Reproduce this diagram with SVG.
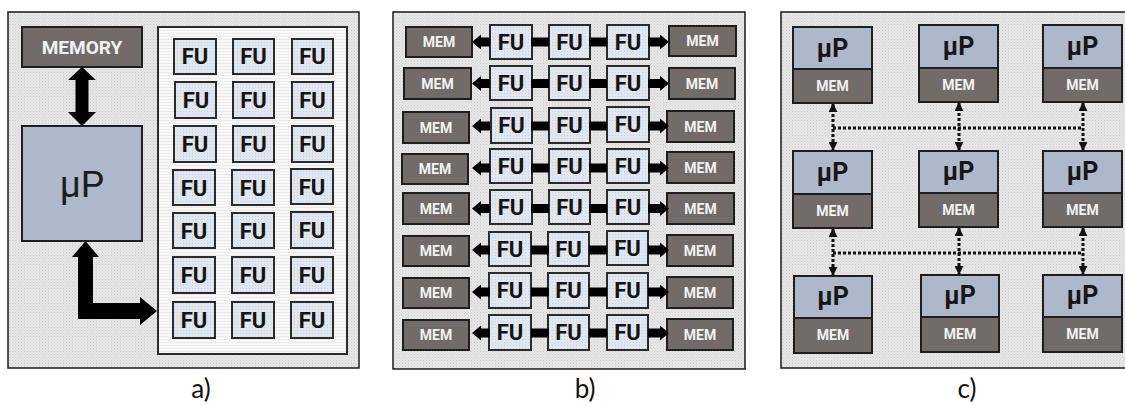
<svg xmlns="http://www.w3.org/2000/svg" xmlns:xlink="http://www.w3.org/1999/xlink" width="1125" height="405" viewBox="0 0 1125 405">
  <defs>
    <!-- fine halftone grain used on the panel backgrounds -->
    <pattern id="grain" width="3" height="3" patternUnits="userSpaceOnUse">
      <rect width="3" height="3" fill="#e7e7e7"/>
      <rect x="0" y="0" width="1" height="1" fill="#cdcdcd"/>
      <rect x="1.5" y="1.5" width="1" height="1" fill="#d6d6d6"/>
    </pattern>
    <pattern id="fuGrain" width="3" height="3" patternUnits="userSpaceOnUse">
      <rect width="3" height="3" fill="#e1e7ef"/>
      <rect x="0" y="0" width="1" height="1" fill="#c9d1dd"/>
    </pattern>
    <pattern id="lines" width="3" height="3" patternUnits="userSpaceOnUse">
      <rect width="3" height="3" fill="#f7f7f7"/>
      <rect x="0" y="0" width="3" height="1" fill="#ebebeb"/>
    </pattern>
    <!-- small arrowhead for the dotted links -->
    <marker id="tip" viewBox="0 0 10 10" refX="9" refY="5" markerWidth="9" markerHeight="9" markerUnits="userSpaceOnUse" orient="auto-start-reverse">
      <path d="M0,0 L10,5 L0,10 Z" fill="#111"/>
    </marker>
    <!-- one row of links in panel b, centred on y = 0 -->
    <g id="rowLinks">
      <polygon points="472,0 481,-7.5 481,-4.5 490,-4.5 490,4.5 481,4.5 481,7.5"/>
      <rect x="531" y="-4.5" width="18" height="9"/>
      <rect x="589" y="-4.5" width="18" height="9"/>
      <polygon points="648,-4.5 660,-4.5 660,-7.5 669,0 660,7.5 660,4.5 648,4.5"/>
    </g>
  </defs>
  <style>
    .panel { fill: url(#grain); stroke: #1a1a1a; stroke-width: 1.5; }
    .inner { fill: url(#lines); stroke: #2a2a2a; stroke-width: 2; }
    .fu { fill: url(#fuGrain); stroke: #2b2b2b; stroke-width: 2; }
    .mem { fill: #716c6a; stroke: #1e1e1e; stroke-width: 2; }
    .up { fill: #adb9ca; stroke: #1e1e1e; stroke-width: 2; }
    .fuT { font-family: Roboto, "Liberation Sans", sans-serif; font-weight: bold; font-size: 22px; fill: #141414; text-anchor: middle; }
    .memT { font-family: Roboto, "Liberation Sans", sans-serif; font-weight: bold; font-size: 14px; fill: #f2f2f2; text-anchor: middle; }
    .upT { font-family: Roboto, "Liberation Sans", sans-serif; font-weight: bold; font-size: 25px; fill: #161616; text-anchor: middle; }
    .cap { font-family: Lato, "Open Sans", sans-serif; font-size: 26px; fill: #111; text-anchor: middle; }
    .dot { stroke: #111; stroke-width: 3; stroke-dasharray: 3 2; fill: none; }
  </style>

  <rect width="1125" height="405" fill="#ffffff"/>

  <!-- ===== panel a ===== -->
  <rect class="panel" x="8" y="12" width="351" height="356"/>
  <rect class="inner" x="158" y="27" width="189" height="327"/>

  <g id="a-memory">
    <rect class="mem" x="22" y="27" width="120" height="40"/>
    <text class="memT" x="82" y="54" style="font-size:19px">MEMORY</text>
  </g>
  <g id="a-up">
    <rect class="up" x="22" y="126" width="120" height="115"/>
    <text x="82" y="197" style="font-family:Roboto,'Liberation Sans',sans-serif;font-size:37px;fill:#1c1c1c;text-anchor:middle">µP</text>
  </g>

  <g id="a-fu">
    <g id="a-fu-1-1"><rect class="fu" x="174" y="39" width="42" height="35"/><text class="fuT" x="195" y="64">FU</text></g>
    <g id="a-fu-1-2"><rect class="fu" x="233" y="39" width="41" height="35"/><text class="fuT" x="253.5" y="64">FU</text></g>
    <g id="a-fu-1-3"><rect class="fu" x="292" y="39" width="41" height="35"/><text class="fuT" x="312.5" y="64">FU</text></g>
    <g id="a-fu-2-1"><rect class="fu" x="175" y="82" width="41" height="36"/><text class="fuT" x="196" y="108">FU</text></g>
    <g id="a-fu-2-2"><rect class="fu" x="233" y="82" width="41" height="36"/><text class="fuT" x="253.5" y="108">FU</text></g>
    <g id="a-fu-2-3"><rect class="fu" x="292" y="82" width="41" height="36"/><text class="fuT" x="312.5" y="108">FU</text></g>
    <g id="a-fu-3-1"><rect class="fu" x="174" y="126" width="42" height="36"/><text class="fuT" x="195" y="152">FU</text></g>
    <g id="a-fu-3-2"><rect class="fu" x="233" y="126" width="41" height="36"/><text class="fuT" x="253.5" y="152">FU</text></g>
    <g id="a-fu-3-3"><rect class="fu" x="292" y="126" width="41" height="36"/><text class="fuT" x="312.5" y="152">FU</text></g>
    <g id="a-fu-4-1"><rect class="fu" x="173" y="170" width="42" height="35"/><text class="fuT" x="194" y="196">FU</text></g>
    <g id="a-fu-4-2"><rect class="fu" x="232" y="170" width="42" height="35"/><text class="fuT" x="253" y="196">FU</text></g>
    <g id="a-fu-4-3"><rect class="fu" x="291" y="169" width="42" height="35"/><text class="fuT" x="312" y="195">FU</text></g>
    <g id="a-fu-5-1"><rect class="fu" x="173" y="213" width="42" height="35"/><text class="fuT" x="194" y="239">FU</text></g>
    <g id="a-fu-5-2"><rect class="fu" x="232" y="213" width="42" height="35"/><text class="fuT" x="253" y="239">FU</text></g>
    <g id="a-fu-5-3"><rect class="fu" x="291" y="212" width="42" height="36"/><text class="fuT" x="312" y="238">FU</text></g>
    <g id="a-fu-6-1"><rect class="fu" x="173" y="257" width="42" height="36"/><text class="fuT" x="194" y="283">FU</text></g>
    <g id="a-fu-6-2"><rect class="fu" x="232" y="257" width="42" height="36"/><text class="fuT" x="253" y="283">FU</text></g>
    <g id="a-fu-6-3"><rect class="fu" x="291" y="257" width="42" height="36"/><text class="fuT" x="312" y="283">FU</text></g>
    <g id="a-fu-7-1"><rect class="fu" x="173" y="302" width="42" height="36"/><text class="fuT" x="194" y="328">FU</text></g>
    <g id="a-fu-7-2"><rect class="fu" x="232" y="302" width="42" height="36"/><text class="fuT" x="253" y="328">FU</text></g>
    <g id="a-fu-7-3"><rect class="fu" x="291" y="302" width="42" height="36"/><text class="fuT" x="312" y="328">FU</text></g>
  </g>

  <!-- ===== panel b ===== -->
  <rect class="panel" x="393" y="12" width="352" height="357"/>

  <g id="b-nodes">
    <g id="b-row-1">
      <g id="b-mem-l-1"><rect class="mem" x="406" y="27" width="66" height="30"/><text class="memT" x="439" y="47">MEM</text></g>
      <g id="b-fu-1-1"><rect class="fu" x="490" y="25" width="42" height="34"/><text class="fuT" x="511" y="50">FU</text></g>
      <g id="b-fu-1-2"><rect class="fu" x="549" y="25" width="41" height="34"/><text class="fuT" x="569.5" y="50">FU</text></g>
      <g id="b-fu-1-3"><rect class="fu" x="607" y="25" width="42" height="34"/><text class="fuT" x="628" y="50">FU</text></g>
      <g id="b-mem-r-1"><rect class="mem" x="669" y="26" width="67" height="30"/><text class="memT" x="702.5" y="46">MEM</text></g>
    </g>
    <g id="b-row-2">
      <g id="b-mem-l-2"><rect class="mem" x="404" y="68" width="67" height="31"/><text class="memT" x="437.5" y="88.5">MEM</text></g>
      <g id="b-fu-2-1"><rect class="fu" x="490" y="66" width="42" height="34"/><text class="fuT" x="511" y="91">FU</text></g>
      <g id="b-fu-2-2"><rect class="fu" x="549" y="66" width="41" height="34"/><text class="fuT" x="569.5" y="91">FU</text></g>
      <g id="b-fu-2-3"><rect class="fu" x="607" y="66" width="42" height="34"/><text class="fuT" x="628" y="91">FU</text></g>
      <g id="b-mem-r-2"><rect class="mem" x="669" y="68" width="66" height="31"/><text class="memT" x="702" y="88.5">MEM</text></g>
    </g>
    <g id="b-row-3">
      <g id="b-mem-l-3"><rect class="mem" x="403" y="112" width="66" height="31"/><text class="memT" x="436" y="132.5">MEM</text></g>
      <g id="b-fu-3-1"><rect class="fu" x="491" y="108" width="41" height="35"/><text class="fuT" x="511.5" y="133">FU</text></g>
      <g id="b-fu-3-2"><rect class="fu" x="549" y="108" width="41" height="35"/><text class="fuT" x="569.5" y="133">FU</text></g>
      <g id="b-fu-3-3"><rect class="fu" x="607" y="107" width="42" height="35"/><text class="fuT" x="628" y="132">FU</text></g>
      <g id="b-mem-r-3"><rect class="mem" x="667" y="111" width="67" height="31"/><text class="memT" x="700.5" y="131.5">MEM</text></g>
    </g>
    <g id="b-row-4">
      <g id="b-mem-l-4"><rect class="mem" x="402" y="154" width="66" height="30"/><text class="memT" x="435" y="174">MEM</text></g>
      <g id="b-fu-4-1"><rect class="fu" x="490" y="149" width="42" height="34"/><text class="fuT" x="511" y="174">FU</text></g>
      <g id="b-fu-4-2"><rect class="fu" x="549" y="149" width="41" height="34"/><text class="fuT" x="569.5" y="174">FU</text></g>
      <g id="b-fu-4-3"><rect class="fu" x="607" y="149" width="42" height="34"/><text class="fuT" x="628" y="174">FU</text></g>
      <g id="b-mem-r-4"><rect class="mem" x="667" y="152" width="67" height="31"/><text class="memT" x="700.5" y="172.5">MEM</text></g>
    </g>
    <g id="b-row-5">
      <g id="b-mem-l-5"><rect class="mem" x="403" y="193" width="66" height="31"/><text class="memT" x="436" y="213.5">MEM</text></g>
      <g id="b-fu-5-1"><rect class="fu" x="490" y="190" width="42" height="34"/><text class="fuT" x="511" y="215">FU</text></g>
      <g id="b-fu-5-2"><rect class="fu" x="549" y="190" width="41" height="34"/><text class="fuT" x="569.5" y="215">FU</text></g>
      <g id="b-fu-5-3"><rect class="fu" x="607" y="190" width="42" height="34"/><text class="fuT" x="628" y="215">FU</text></g>
      <g id="b-mem-r-5"><rect class="mem" x="667" y="193" width="67" height="31"/><text class="memT" x="700.5" y="213.5">MEM</text></g>
    </g>
    <g id="b-row-6">
      <g id="b-mem-l-6"><rect class="mem" x="403" y="236" width="66" height="30"/><text class="memT" x="436" y="256">MEM</text></g>
      <g id="b-fu-6-1"><rect class="fu" x="489" y="232" width="42" height="34"/><text class="fuT" x="510" y="257">FU</text></g>
      <g id="b-fu-6-2"><rect class="fu" x="548" y="232" width="41" height="34"/><text class="fuT" x="568.5" y="257">FU</text></g>
      <g id="b-fu-6-3"><rect class="fu" x="607" y="231" width="41" height="34"/><text class="fuT" x="627.5" y="256">FU</text></g>
      <g id="b-mem-r-6"><rect class="mem" x="667" y="235" width="66" height="31"/><text class="memT" x="700" y="255.5">MEM</text></g>
    </g>
    <g id="b-row-7">
      <g id="b-mem-l-7"><rect class="mem" x="403" y="278" width="66" height="30"/><text class="memT" x="436" y="298">MEM</text></g>
      <g id="b-fu-7-1"><rect class="fu" x="489" y="273" width="42" height="35"/><text class="fuT" x="510" y="298">FU</text></g>
      <g id="b-fu-7-2"><rect class="fu" x="548" y="273" width="41" height="35"/><text class="fuT" x="568.5" y="298">FU</text></g>
      <g id="b-fu-7-3"><rect class="fu" x="607" y="273" width="41" height="35"/><text class="fuT" x="627.5" y="298">FU</text></g>
      <g id="b-mem-r-7"><rect class="mem" x="667" y="277" width="66" height="31"/><text class="memT" x="700" y="297.5">MEM</text></g>
    </g>
    <g id="b-row-8">
      <g id="b-mem-l-8"><rect class="mem" x="403" y="320" width="66" height="30"/><text class="memT" x="436" y="340">MEM</text></g>
      <g id="b-fu-8-1"><rect class="fu" x="489" y="315" width="42" height="35"/><text class="fuT" x="510" y="340">FU</text></g>
      <g id="b-fu-8-2"><rect class="fu" x="548" y="315" width="41" height="35"/><text class="fuT" x="568.5" y="340">FU</text></g>
      <g id="b-fu-8-3"><rect class="fu" x="607" y="315" width="41" height="35"/><text class="fuT" x="627.5" y="340">FU</text></g>
      <g id="b-mem-r-8"><rect class="mem" x="667" y="319" width="66" height="31"/><text class="memT" x="700" y="339.5">MEM</text></g>
    </g>
  </g>

  <!-- ===== panel c ===== -->
  <rect class="panel" x="781" y="12" width="350" height="356"/>

  <g id="c-nodes">
    <g id="c-1-1"><rect class="up" x="793" y="27" width="79" height="42"/><rect class="mem" x="793" y="69" width="79" height="34"/><text class="upT" x="832.5" y="57">µP</text><text class="memT" x="832.5" y="91">MEM</text></g>
    <g id="c-1-2"><rect class="up" x="919" y="25" width="79" height="43"/><rect class="mem" x="919" y="68" width="79" height="34"/><text class="upT" x="958.5" y="55">µP</text><text class="memT" x="958.5" y="90">MEM</text></g>
    <g id="c-1-3"><rect class="up" x="1043" y="25" width="79" height="43"/><rect class="mem" x="1043" y="68" width="79" height="34"/><text class="upT" x="1082.5" y="55">µP</text><text class="memT" x="1082.5" y="90">MEM</text></g>
    <g id="c-2-1"><rect class="up" x="793" y="151" width="79" height="43"/><rect class="mem" x="793" y="194" width="79" height="34"/><text class="upT" x="832.5" y="181">µP</text><text class="memT" x="832.5" y="216">MEM</text></g>
    <g id="c-2-2"><rect class="up" x="919" y="151" width="79" height="42"/><rect class="mem" x="919" y="193" width="79" height="34"/><text class="upT" x="958.5" y="180">µP</text><text class="memT" x="958.5" y="215">MEM</text></g>
    <g id="c-2-3"><rect class="up" x="1043" y="151" width="79" height="42"/><rect class="mem" x="1043" y="193" width="79" height="34"/><text class="upT" x="1082.5" y="180">µP</text><text class="memT" x="1082.5" y="215">MEM</text></g>
    <g id="c-3-1"><rect class="up" x="794" y="276" width="78" height="42"/><rect class="mem" x="794" y="318" width="78" height="35"/><text class="upT" x="833" y="305">µP</text><text class="memT" x="833" y="340">MEM</text></g>
    <g id="c-3-2"><rect class="up" x="921" y="275" width="78" height="42"/><rect class="mem" x="921" y="317" width="78" height="35"/><text class="upT" x="960" y="304">µP</text><text class="memT" x="960" y="339">MEM</text></g>
    <g id="c-3-3"><rect class="up" x="1043" y="275" width="79" height="42"/><rect class="mem" x="1043" y="317" width="79" height="35"/><text class="upT" x="1082.5" y="304">µP</text><text class="memT" x="1082.5" y="339">MEM</text></g>
  </g>

  <!-- ===== connectors ===== -->
  <g id="connectors">
    <!-- panel a: memory bus and FU bus -->
    <polygon fill="#000" points="82,67 96,80 88.5,80 88.5,112 96,112 82,126 68,112 75.5,112 75.5,80 68,80"/>
    <polygon fill="#000" points="85.5,241 99,257 93,257 93,303 140,303 140,297 157,311 140,325 140,319 78,319 78,257 72,257"/>
    <!-- panel b: row links -->
    <g fill="#000">
      <use xlink:href="#rowLinks" y="42"/>
      <use xlink:href="#rowLinks" y="83.5"/>
      <use xlink:href="#rowLinks" y="126"/>
      <use xlink:href="#rowLinks" y="168"/>
      <use xlink:href="#rowLinks" y="208.5"/>
      <use xlink:href="#rowLinks" y="250"/>
      <use xlink:href="#rowLinks" y="292"/>
      <use xlink:href="#rowLinks" y="333"/>
    </g>
    <!-- panel c: dotted interconnect -->
    <line class="dot" x1="833" y1="128" x2="1083" y2="128"/>
    <line class="dot" x1="833" y1="104" x2="833" y2="150" marker-start="url(#tip)" marker-end="url(#tip)"/>
    <line class="dot" x1="959" y1="103" x2="959" y2="150" marker-start="url(#tip)" marker-end="url(#tip)"/>
    <line class="dot" x1="1083" y1="103" x2="1083" y2="150" marker-start="url(#tip)" marker-end="url(#tip)"/>
    <line class="dot" x1="833" y1="253" x2="1083" y2="253"/>
    <line class="dot" x1="833" y1="229" x2="833" y2="275" marker-start="url(#tip)" marker-end="url(#tip)"/>
    <line class="dot" x1="959" y1="228" x2="959" y2="274" marker-start="url(#tip)" marker-end="url(#tip)"/>
    <line class="dot" x1="1083" y1="228" x2="1083" y2="274" marker-start="url(#tip)" marker-end="url(#tip)"/>
  </g>

  <!-- panel captions -->
  <text class="cap" x="201" y="398">a)</text>
  <text class="cap" x="585" y="398">b)</text>
  <text class="cap" x="967" y="398">c)</text>
</svg>
